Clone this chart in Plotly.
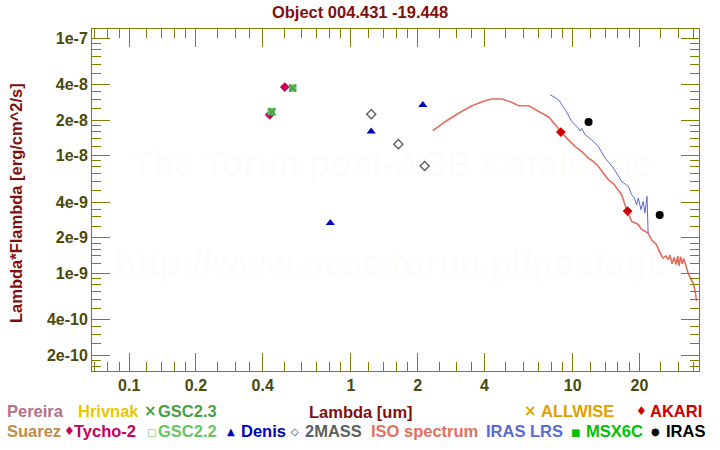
import plotly.graph_objects as go

# ---------------- data ----------------
tycho_wl = [0.43, 0.503]
tycho_f = [2.22e-8, 3.83e-8]
gsc22_wl = [0.437, 0.546]
gsc22_f = [2.37e-8, 3.75e-8]
gsc23_wl = [0.441, 0.546]
gsc23_f = [2.35e-8, 3.75e-8]
denis_wl = [0.807, 1.234, 2.11]
denis_f = [2.67e-9, 1.60e-8, 2.69e-8]
tmass_wl = [1.235, 1.636, 2.15]
tmass_f = [2.25e-8, 1.25e-8, 8.15e-9]
akari_wl = [8.85, 17.7]
akari_f = [1.585e-8, 3.37e-9]
iras_wl = [11.8, 24.7]
iras_f = [1.93e-8, 3.12e-9]

iso_wl = [2.34, 2.67, 3.07, 3.52, 4.05, 4.33, 4.81, 5.33, 5.71, 6.34, 7.03, 7.79,
          8.49, 8.94, 10.27, 11.0, 11.78, 12.4, 13.07, 13.8, 14.5, 15.3, 16.08, 16.64,
          17.53, 17.83, 18.45, 19.1, 19.78, 20.5, 21.2, 21.9, 22.7, 23.9, 24.8, 25.6,
          26.3, 27.0, 27.5, 28.1, 28.7, 29.3, 29.8, 30.2, 30.7, 31.2, 31.7, 32.2,
          32.9, 33.2, 34.2, 35.0, 35.6, 36.2]
iso_f = [1.625e-8, 1.95e-8, 2.30e-8, 2.65e-8, 2.94e-8, 3.03e-8, 3.03e-8, 2.83e-8,
         2.65e-8, 2.65e-8, 2.37e-8, 2.13e-8, 1.77e-8, 1.55e-8, 1.19e-8, 1.08e-8,
         9.5e-9, 8.9e-9, 8.07e-9, 7.1e-9, 6.22e-9, 5.75e-9, 5.01e-9, 4.64e-9,
         3.46e-9, 3.24e-9, 2.75e-9, 2.68e-9, 2.58e-9, 2.35e-9, 2.26e-9, 2.19e-9,
         1.92e-9, 1.74e-9, 1.48e-9, 1.34e-9, 1.40e-9, 1.30e-9, 1.42e-9, 1.20e-9,
         1.36e-9, 1.18e-9, 1.40e-9, 1.15e-9, 1.38e-9, 1.20e-9, 1.33e-9, 1.19e-9,
         1.02e-9, 1.0e-9, 8.8e-10, 8.2e-10, 7.2e-10, 5.8e-10]

lrs_wl = [7.93, 8.64, 9.27, 9.91, 10.44, 10.8, 11.0, 11.39, 12.19, 13.07, 14.02,
          15.28, 16.64, 17.83, 18.45, 18.97, 19.44, 19.78, 20.34, 20.8, 21.2,
          21.65, 21.9]
lrs_f = [3.29e-8, 2.98e-8, 2.45e-8, 1.95e-8, 1.77e-8, 1.62e-8, 1.70e-8, 1.50e-8,
         1.36e-8, 1.19e-8, 9.5e-9, 7.83e-9, 6.02e-9, 5.46e-9, 4.64e-9, 4.35e-9,
         3.81e-9, 4.35e-9, 3.46e-9, 4.07e-9, 3.24e-9, 4.49e-9, 2.19e-9]

x_tickvals = [0.1, 0.2, 0.4, 1, 2, 4, 10, 20]
x_ticktext = ["0.1", "0.2", "0.4", "1", "2", "4", "10", "20"]
y_tickvals = [2e-10, 4e-10, 1e-9, 2e-9, 4e-9, 1e-8, 2e-8, 4e-8, 1e-7]
y_ticktext = ["2e-10", "4e-10", "1e-9", "2e-9", "4e-9", "1e-8", "2e-8", "4e-8", "1e-7"]
minor_mult = [1.2, 1.4, 1.6, 1.8, 2.5, 3, 3.5, 5, 6, 7, 8, 9]
x_decades = [0.01, 0.1, 1, 10]
y_decades = [1e-11, 1e-10, 1e-9, 1e-8, 1e-7]

title_text = "Object 004.431 -19.448"
xtitle = "Lambda [um]"
ytitle = "Lambda*Flambda [erg/cm^2/s]"

# ---------------- style ----------------
FONT = "Liberation Sans, Arial, sans-serif"
SYMFONT = "DejaVu Sans"
OLIVE = "#808000"
TICKC = "#4a4a0c"
DRED = "#801010"

C_TYCHO = "#c8005a"
C_GSC22 = "#66c466"
C_GSC23 = "#46a046"
C_DENIS = "#0000c0"
C_2MASS = "#606060"
C_AKARI = "#d00000"
C_IRAS = "#000000"
C_ISO = "#e07060"
C_LRS = "#5a6ad4"

fig = go.Figure()
fig.add_trace(go.Scatter(x=iso_wl, y=iso_f, mode="lines", line=dict(color=C_ISO, width=1.6), showlegend=False))
fig.add_trace(go.Scatter(x=lrs_wl, y=lrs_f, mode="lines", line=dict(color=C_LRS, width=1), showlegend=False))
fig.add_trace(go.Scatter(x=tycho_wl, y=tycho_f, mode="markers",
                         marker=dict(symbol="diamond", size=7.5, color=C_TYCHO, line=dict(width=0)), showlegend=False))
fig.add_trace(go.Scatter(x=gsc22_wl, y=gsc22_f, mode="markers",
                         marker=dict(symbol="square", size=7.5, color=C_GSC22, line=dict(width=0)), showlegend=False))
fig.add_trace(go.Scatter(x=gsc23_wl, y=gsc23_f, mode="markers",
                         marker=dict(symbol="x-thin", size=7, color=C_GSC23, line=dict(width=1.6, color=C_GSC23)), showlegend=False))
fig.add_trace(go.Scatter(x=denis_wl, y=denis_f, mode="markers",
                         marker=dict(symbol="triangle-up", size=8, color=C_DENIS, line=dict(width=0)), showlegend=False))
fig.add_trace(go.Scatter(x=tmass_wl, y=tmass_f, mode="markers",
                         marker=dict(symbol="diamond-open", size=7, color=C_2MASS, line=dict(width=1.4, color=C_2MASS)), showlegend=False))
fig.add_trace(go.Scatter(x=akari_wl, y=akari_f, mode="markers",
                         marker=dict(symbol="diamond", size=7.5, color=C_AKARI, line=dict(width=0)), showlegend=False))
fig.add_trace(go.Scatter(x=iras_wl, y=iras_f, mode="markers",
                         marker=dict(symbol="circle", size=8, color=C_IRAS, line=dict(width=0)), showlegend=False))

L, R, T, B = 92, 21, 29, 79
PW, PH = 720 - L - R, 450 - T - B


def px(x):
    return (x - L) / PW


def py(y):
    return (450 - B - y) / PH


def minor_vals(decades):
    return [m * d for d in decades for m in minor_mult]


axis_common = dict(
    type="log", showline=True, linecolor=OLIVE, linewidth=1, mirror="allticks",
    ticks="inside", ticklen=18, tickwidth=1, tickcolor=OLIVE, showgrid=False, zeroline=False,
    tickfont=dict(family=FONT, size=16, color=TICKC, weight="bold"), tickmode="array",
)
fig.update_xaxes(**axis_common, range=[-1.168, 1.570], tickvals=x_tickvals, ticktext=x_ticktext,
                 minor=dict(tickmode="array", tickvals=minor_vals(x_decades), ticks="inside",
                            ticklen=9, tickwidth=1, tickcolor=OLIVE, showgrid=False))
fig.update_yaxes(**axis_common, range=[-9.834, -6.923], tickvals=y_tickvals, ticktext=y_ticktext,
                 minor=dict(tickmode="array", tickvals=minor_vals(y_decades), ticks="inside",
                            ticklen=9, tickwidth=1, tickcolor=OLIVE, showgrid=False))

ann = []


def text(x, y, s, color, size=16.5, anchor="left", family=FONT, **kw):
    ann.append(dict(x=px(x), y=py(y), xref="paper", yref="paper", text=s, showarrow=False,
                    xanchor=anchor, yanchor="middle", borderpad=0, borderwidth=0,
                    font=dict(family=family, size=size, color=color, weight="bold"), **kw))


def sym(x, y, s, color, size):
    text(x, y, s, color, size=size, anchor="center", family=SYMFONT)


# watermark
WM = "rgba(200,170,110,0.045)"
text(391, 163, "The Torun post-AGB Catalogue", WM, size=35, anchor="center")
text(391, 262, "http://www.ncac.torun.pl/postagb", WM, size=35, anchor="center")

# axis titles
text(361, 412, xtitle, DRED, anchor="center")
text(16, 203, ytitle, DRED, anchor="center", textangle=-90)

# legend row 1
R1, R2 = 411, 431
text(7, R1, "Pereira", "#b07488")
text(78, R1, "Hrivnak", "#e6c800")
sym(150.5, R1, "×", C_GSC23, 15)
text(158, R1, "GSC2.3", C_GSC23)
sym(530, R1, "×", "#e0a000", 15)
text(541, R1, "ALLWISE", "#e0a000")
sym(641, R1, "♦", C_AKARI, 12)
text(650, R1, "AKARI", C_AKARI)
# legend row 2
text(7, R2, "Suarez", "#c08c48")
sym(69, R2, "♦", C_TYCHO, 12)
text(74, R2, "Tycho-2", C_TYCHO)
sym(151, R2 + 1, "□", C_GSC22, 10)
text(158, R2, "GSC2.2", C_GSC22)
sym(230.5, R2, "▲", C_DENIS, 10)
text(241, R2, "Denis", C_DENIS)
sym(294.7, R2, "◇", "#404040", 10)
text(305, R2, "2MASS", C_2MASS)
text(371, R2, "ISO spectrum", C_ISO)
text(486, R2, "IRAS LRS", C_LRS)
sym(575.7, R2 + 1, "■", "#00c000", 10)
text(586, R2, "MSX6C", "#00c000")
sym(655.7, R2, "●", C_IRAS, 10)
text(666, R2, "IRAS", C_IRAS)

fig.update_layout(
    width=720, height=450, margin=dict(l=L, r=R, t=T, b=B),
    paper_bgcolor="white", plot_bgcolor="white",
    title=dict(text=title_text, x=0.5, xanchor="center", y=1 - 12 / 450, yanchor="middle",
               font=dict(family=FONT, size=16.5, color=DRED, weight="bold")),
    annotations=ann, showlegend=False,
)

fig.write_html("out.html")
